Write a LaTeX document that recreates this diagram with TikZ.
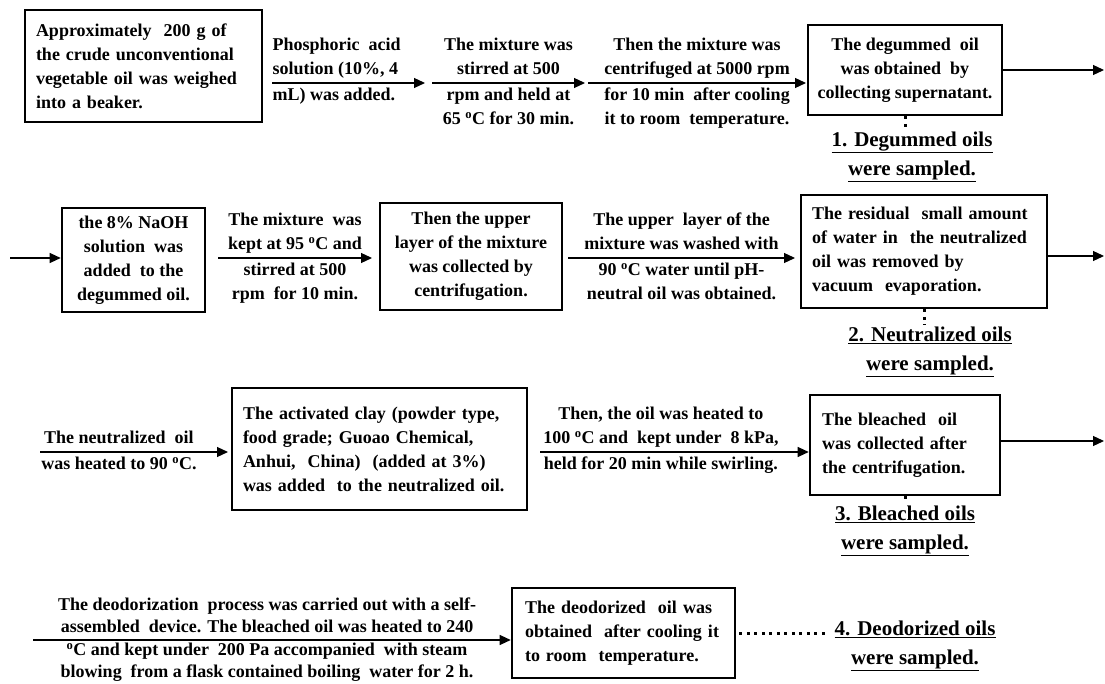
\documentclass[tikz,border=0pt]{standalone}
\usepackage{fontspec}
\setmainfont{Liberation Serif}
\usetikzlibrary{arrows.meta}
\tikzset{
  box/.style={draw, line width=2.6pt, inner sep=0pt},
  flow/.style={-{Triangle[length=11pt,width=10pt]}, line width=1.2pt},
  dots/.style={line width=3pt, dash pattern=on 3pt off 4.5pt},
  over/.style={above, inner ysep=0.5pt, align=center, execute at end node=\strut},
  under/.style={below, inner ysep=0.5pt, align=center},
  sample/.style={font=\fontsize{21}{29}\selectfont\bfseries, align=center},
}
\newcommand{\degc}{\textsuperscript{o}C}

\begin{document}
\begin{tikzpicture}[x=1pt, y=-1pt, font=\fontsize{18}{24}\selectfont\bfseries, inner sep=2pt]
    \useasboundingbox (0,0) rectangle (1105,684);

    \node (crude) [box, text width=215pt, inner xsep=11pt, minimum height=112pt, align=left] at (143.5,66)
        {Approximately \ 200 g of\\the crude unconventional\\vegetable oil was weighed\\into a beaker.};
    \node (degum) [box, minimum width=194pt, minimum height=90pt, align=center] at (905,70)
        {The degummed \ oil\\was obtained \ by\\collecting supernatant.};
    \node (samp1) [sample] at (912,157) {\underline{1. Degummed oils}\\\underline{were sampled.}};

    \coordinate (a1s) at (272,83);
    \coordinate (a1e) at (425,83);
    \coordinate (a2s) at (432,83);
    \coordinate (a2e) at (585,83);
    \coordinate (a3s) at (588,83);
    \coordinate (a3e) at (806,83);
    \coordinate (o1) at (1104,70);
    \draw [flow] (a1s) -- (a1e)
        node (t1a) [at start, over, anchor=south west, inner xsep=0pt, align=left] {Phosphoric \ acid\\solution (10\%, 4}
        node (t1b) [at start, under, anchor=north west, inner xsep=0pt, align=left] {\strut mL) was added.};
    \draw [flow] (a2s) -- (a2e)
        node (t2a) [midway, over] {The mixture was\\stirred at 500}
        node (t2b) [midway, under] {\strut rpm and held at\\65 \degc{} for 30 min.};
    \draw [flow] (a3s) -- (a3e)
        node (t3a) [midway, over] {Then the mixture was\\centrifuged at 5000 rpm}
        node (t3b) [midway, under] {\strut for 10 min \ after cooling\\it to room \ temperature.};
    \draw [flow] (degum.east) -- (o1);
    \draw [dots] (degum.south) -- (degum.south |- samp1.north);

    \node (naoh) [box, minimum width=143pt, minimum height=104pt, align=center] at (133.5,260)
        {the 8\% NaOH\\solution \ was\\added \ to the\\degummed oil.};
    \node (upper) [box, minimum width=182pt, minimum height=107pt, align=center] at (471,256.5)
        {Then the upper\\layer of the mixture\\was collected by\\centrifugation.};
    \node (dry) [box, text width=224pt, inner xsep=11pt, minimum height=113pt, align=left] at (924,251.5)
        {The residual \ small amount\\of water in \ the neutralized\\oil was removed by\\vacuum \ evaporation.};
    \node (samp2) [sample] at (930,352) {\underline{2. Neutralized oils}\\\underline{were sampled.}};

    \coordinate (i2) at (10,258);
    \coordinate (a4s) at (218,258);
    \coordinate (a4e) at (372,258);
    \coordinate (a5s) at (568,258);
    \coordinate (a5e) at (795,258);
    \coordinate (o2) at (1104,256);
    \draw [flow] (i2) -- (naoh.west |- i2);
    \draw [flow] (a4s) -- (a4e)
        node (t4a) [midway, over] {The mixture \ was\\kept at 95 \degc{} and}
        node (t4b) [midway, under] {\strut stirred at 500\\rpm \ for 10 min.};
    \draw [flow] (a5s) -- (a5e)
        node (t5a) [midway, over] {The upper \ layer of the\\mixture was washed with}
        node (t5b) [midway, under] {\strut 90 \degc{} water until pH-\\neutral oil was obtained.};
    \draw [flow] (dry.east |- o2) -- (o2);
    \draw [dots] (dry.south) -- (dry.south |- samp2.north);

    \node (clay) [box, text width=273pt, inner xsep=11pt, minimum height=122pt, align=left] at (379.5,449)
        {The activated clay (powder type,\\food grade; Guoao Chemical,\\Anhui, \ China) \ (added at 3\%)\\was added \ to the neutralized oil.};
    \node (bleach) [box, text width=166pt, inner xsep=12pt, minimum height=100pt, align=left] at (905,445)
        {The bleached \ oil\\was collected after\\the centrifugation.};
    \node (samp3) [sample] at (905,531) {\underline{3. Bleached oils}\\\underline{were sampled.}};

    \coordinate (a6s) at (40,452);
    \coordinate (a6e) at (228,452);
    \coordinate (a7s) at (540,452);
    \coordinate (o3) at (1104,441);
    \draw [flow] (a6s) -- (a6e)
        node (t6a) [pos=0.42, over] {The neutralized \ oil}
        node (t6b) [pos=0.42, under] {\strut was heated to 90 \degc.};
    \draw [flow] (a7s) -- (bleach.west |- a7s)
        node (t7a) [pos=0.45, over] {Then, the oil was heated to\\100 \degc{} and \ kept under \ 8 kPa,}
        node (t7b) [pos=0.45, under] {\strut held for 20 min while swirling.};
    \draw [flow] (bleach.east |- o3) -- (o3);
    \draw [dots] (bleach.south) -- (bleach.south |- samp3.north);

    \node (deodor) [box, text width=197pt, inner xsep=13pt, minimum height=90pt, align=left] at (623.5,633)
        {The deodorized \ oil was\\obtained \ after cooling it\\to room \ temperature.};
    \node (samp4) [sample] at (915,646) {\underline{4. Deodorized oils}\\\underline{were sampled.}};

    \coordinate (a8s) at (33,640);
    \draw [flow] (a8s) -- (deodor.west |- a8s)
        node (t8a) [pos=0.49, over, font=\fontsize{18}{22}\selectfont\bfseries]
            {The deodorization \ process was carried out with a self-\\assembled \ device. The bleached oil was heated to 240}
        node (t8b) [pos=0.49, under, inner ysep=0pt, font=\fontsize{18}{21.5}\selectfont\bfseries]
            {\strut\degc{} and kept under \ 200 Pa accompanied \ with steam\\blowing \ from a flask contained boiling \ water for 2 h.};
    \draw [dots] ([xshift=3pt]deodor.east) -- ([xshift=-4pt]samp4.west |- deodor.east);
\end{tikzpicture}
\end{document}
